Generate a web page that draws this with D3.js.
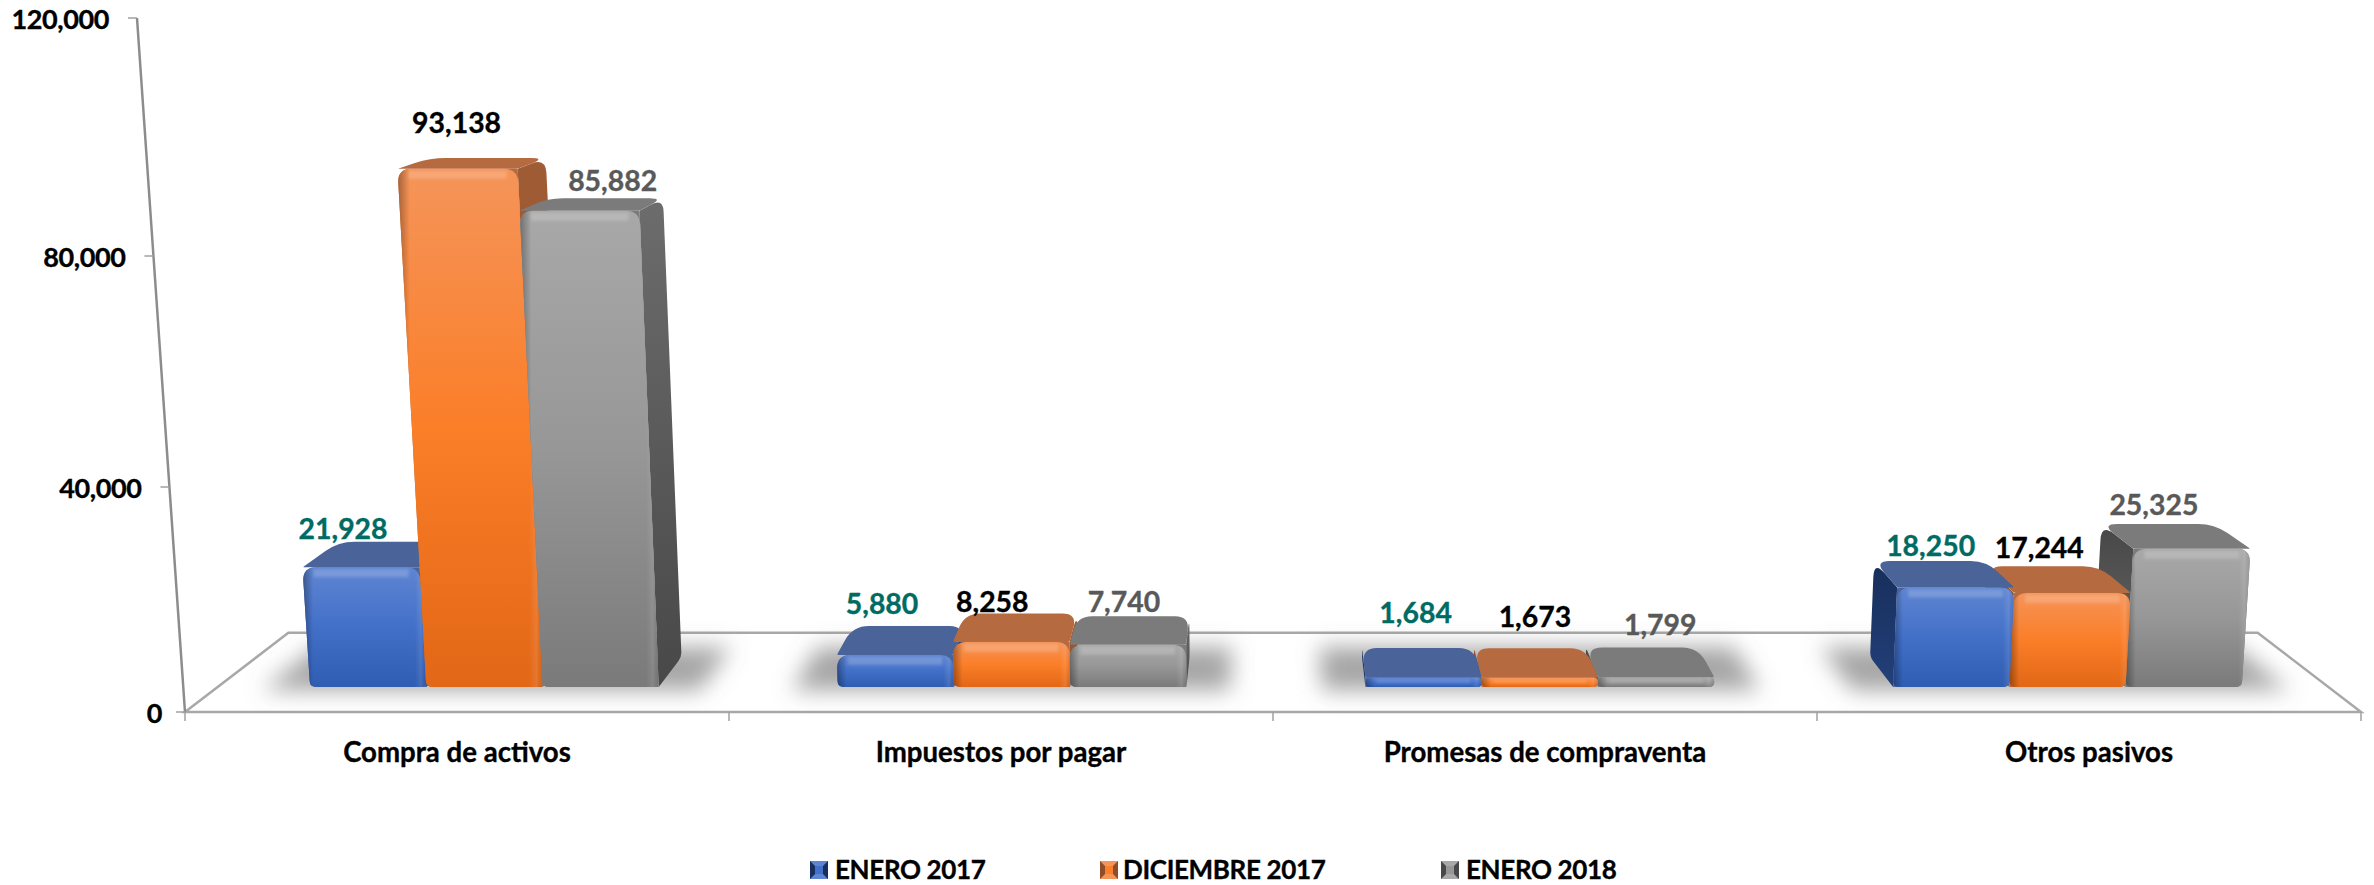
<!DOCTYPE html>
<html>
<head>
<meta charset="utf-8">
<script src="https://cdn.jsdelivr.net/npm/d3@7"></script>
<style>
  html, body { margin: 0; background: #fff; }
  text { font-family: Lato, "Open Sans", sans-serif; font-weight: 700; stroke-width: 0.35px; }
</style>
</head>
<body>
<div id="chart"></div>
<script>
// Chart data
const categories = ['Compra de activos', 'Impuestos por pagar', 'Promesas de compraventa', 'Otros pasivos'];
const seriesNames = ['ENERO 2017', 'DICIEMBRE 2017', 'ENERO 2018'];
const enero2017 = [21928, 5880, 1684, 18250];
const diciembre2017 = [93138, 8258, 1673, 17244];
const enero2018 = [85882, 7740, 1799, 25325];
const seriesValues = [enero2017, diciembre2017, enero2018];
const yTicks = [0, 40000, 80000, 120000];

// Looks per series
const palette = [
  { top: '#4a6398', sideA: '#23407a', sideB: '#172f5c', stops: ['#5f85d2', '#4270c8', '#2f5db2'], label: '#006b63' },
  { top: '#b56a40', sideA: '#a05c34', sideB: '#8c4e2a', stops: ['#f59459', '#fb7e28', '#e26716'], label: '#000000' },
  { top: '#7b7b7b', sideA: '#6c6c6c', sideB: '#484848', stops: ['#a8a8a8', '#979797', '#7a7a7a'], label: '#595959' }
];

// Hand-placed data labels, offset from the top of each bar's front face (as in the source)
const labelNudge = [
  [[-18, -38], [-13, -51], [-8, -65], [-25, -41]],
  [[-1, -46], [-19, -40], [-5, -61], [-33, -45]],
  [[33, -30], [-4, -43], [4, -52], [-38, -44]]
];

const width = 2374;
const height = 885;

// Perspective: verticals flare from below, depth lines run to a point above the chart
const vx = 1273;
const vy = -122;
const flare = 15730;
const floorDepth = 0.095;
const barFront = 0.03;
const barBack = 0.066;
const barShift = 3;

const y = d3.scaleLinear().domain(yTicks).range([712, 487, 256, 18]);
const x = d3.scaleBand().domain(categories).range([185, 2361]);
const xInner = d3.scaleBand().domain(seriesNames).range([0, x.bandwidth()]).paddingInner(0).paddingOuter(0.77);

function project(xb, h, f) {
  const y0 = y(h);
  const x0 = vx + (xb - vx) * (1 + (y(0) - y0) / flare);
  return [x0 + f * (vx - x0), y0 + f * (vy - y0)];
}

// Polygon with rounded corners, radii given per corner
function roundPoly(pts, radii) {
  const n = pts.length;
  let d = '';
  pts.forEach((p, i) => {
    const a = pts[(i + n - 1) % n];
    const b = pts[(i + 1) % n];
    const la = Math.hypot(a[0] - p[0], a[1] - p[1]);
    const lb = Math.hypot(b[0] - p[0], b[1] - p[1]);
    const r = Math.min(radii[i], la / 2, lb / 2);
    const s = [p[0] + (a[0] - p[0]) * r / la, p[1] + (a[1] - p[1]) * r / la];
    const e = [p[0] + (b[0] - p[0]) * r / lb, p[1] + (b[1] - p[1]) * r / lb];
    d += `${i ? 'L' : 'M'}${s[0]},${s[1]}Q${p[0]},${p[1]} ${e[0]},${e[1]}`;
  });
  return d + 'Z';
}

const svg = d3.select('#chart').append('svg')
  .attr('width', width)
  .attr('height', height)
  .style('display', 'block');

const defs = svg.append('defs');
defs.append('filter').attr('id', 'soft').attr('x', '-20%').attr('y', '-60%').attr('width', '140%').attr('height', '220%')
  .append('feGaussianBlur').attr('stdDeviation', 11);
defs.append('filter').attr('id', 'rim').attr('x', '-30%').attr('y', '-100%').attr('width', '160%').attr('height', '300%')
  .append('feGaussianBlur').attr('stdDeviation', 1.6);

palette.forEach((p, i) => {
  const front = defs.append('linearGradient').attr('id', `front-${i}`).attr('x1', 0).attr('x2', 0).attr('y1', 0).attr('y2', 1);
  p.stops.forEach((c, k) => front.append('stop').attr('offset', `${k * 50}%`).attr('stop-color', c));
  // right-hand faces darken downwards, left-hand faces lighten
  const sideR = defs.append('linearGradient').attr('id', `side-r-${i}`).attr('x1', 0).attr('x2', 0).attr('y1', 0).attr('y2', 1);
  sideR.append('stop').attr('offset', '0%').attr('stop-color', p.sideA);
  sideR.append('stop').attr('offset', '100%').attr('stop-color', p.sideB);
  const sideL = defs.append('linearGradient').attr('id', `side-l-${i}`).attr('x1', 0).attr('x2', 0).attr('y1', 0).attr('y2', 1);
  sideL.append('stop').attr('offset', '0%').attr('stop-color', p.sideB);
  sideL.append('stop').attr('offset', '100%').attr('stop-color', p.sideA);
});
const edge = defs.append('linearGradient').attr('id', 'edge').attr('x1', 0).attr('x2', 1).attr('y1', 0).attr('y2', 0);
[[0, '#000', 0.32], [0.08, '#000', 0], [0.91, '#fff', 0], [0.96, '#fff', 0.1], [1, '#000', 0.05]].forEach(s => {
  edge.append('stop').attr('offset', s[0]).attr('stop-color', s[1]).attr('stop-opacity', s[2]);
});

// Floor outline
svg.append('path')
  .attr('d', d3.line()([project(185, 0, 0), project(185, 0, floorDepth), project(2361, 0, floorDepth), project(2361, 0, 0)]) + 'Z')
  .attr('fill', 'none')
  .attr('stroke', '#a8a8a8')
  .attr('stroke-width', 2.5);

// Value axis
const tickLen = 9;
svg.append('path')
  .attr('d', d3.line()(yTicks.map(t => project(185, t, 0))))
  .attr('fill', 'none')
  .attr('stroke', '#8c8c8c')
  .attr('stroke-width', 2.5);
const yTick = svg.append('g').selectAll('g').data(yTicks).join('g')
  .attr('transform', d => `translate(${project(185, d, 0)})`);
yTick.append('line').attr('x1', -tickLen).attr('x2', 0).attr('stroke', '#a0a0a0').attr('stroke-width', 1.5);
yTick.append('text')
  .attr('x', d => d === 0 ? -tickLen - 14 : -tickLen - 19)
  .attr('y', 2)
  .attr('dy', '0.35em')
  .attr('text-anchor', 'end')
  .attr('font-size', 27)
  .attr('letter-spacing', -0.4)
  .attr('fill', '#000')
  .attr('stroke', '#000')
  .text(d3.format(','));

// Category axis
const xBoundaries = categories.map(c => x(c)).concat(x.range()[1]);
svg.append('g').selectAll('line').data(xBoundaries).join('line')
  .attr('x1', d => d).attr('x2', d => d)
  .attr('y1', y(0)).attr('y2', y(0) + tickLen)
  .attr('stroke', '#a0a0a0').attr('stroke-width', 1.5);
const xAxis = svg.append('g')
  .attr('transform', `translate(0,${y(0)})`)
  .call(d3.axisBottom(x).tickSize(0).tickPadding(30));
xAxis.select('.domain').remove();
xAxis.attr('font-family', null);
xAxis.selectAll('text').attr('font-size', 27.6).attr('fill', '#000').attr('stroke', '#000');

// One record per bar, far-from-centre bars first so nearer ones paint over them
const bars = categories.flatMap((c, ci) => seriesNames.map((s, si) => {
  const x0 = x(c) + xInner(s) + barShift;
  return { c, ci, s, si, value: seriesValues[si][ci], x0, x1: x0 + xInner.bandwidth() };
})).sort((a, b) => Math.abs((b.x0 + b.x1) / 2 - vx) - Math.abs((a.x0 + a.x1) / 2 - vx));

// Floor shadows
svg.append('g').selectAll('path').data(categories).join('path')
  .attr('d', c => {
    const l = x(c) + xInner(seriesNames[0]) - 42;
    const r = x(c) + xInner(seriesNames[2]) + xInner.bandwidth() + 48;
    return d3.line()([project(l, 0, 0.026), project(r, 0, 0.026), project(r, 0, 0.078), project(l, 0, 0.078)]) + 'Z';
  })
  .attr('fill', '#707070')
  .attr('fill-opacity', 0.62)
  .attr('filter', 'url(#soft)');

// Bars
const barG = svg.append('g').selectAll('g').data(bars).join('g');

barG.each(function(d) {
  const g = d3.select(this);
  const rightSide = (d.x0 + d.x1) / 2 < vx;
  const fl = project(d.x0, d.value, barFront);
  const fr = project(d.x1, d.value, barFront);
  const bl = project(d.x0, d.value, barBack);
  const br = project(d.x1, d.value, barBack);
  const flb = project(d.x0, 0, barFront);
  const frb = project(d.x1, 0, barFront);
  const outer = rightSide ? d.x1 : d.x0;

  g.append('path')
    .attr('d', roundPoly([
      project(outer, d.value, barFront),
      project(outer, d.value, barBack),
      project(outer, 0, barBack),
      project(outer, 0, barFront)
    ], [0, 16, 5, 0]))
    .attr('fill', `url(#side-${rightSide ? 'r' : 'l'}-${d.si})`);

  g.append('path')
    .attr('d', roundPoly([fl, fr, br, bl], [2, 2, 16, 16]))
    .attr('fill', palette[d.si].top);

  // backing so the rounded front corner on the side-face edge shows no gap
  g.append('path')
    .attr('d', roundPoly([fl, fr, frb, flb], rightSide ? [14, 0, 0, 6] : [0, 14, 6, 0]))
    .attr('fill', palette[d.si].top);

  const front = roundPoly([fl, fr, frb, flb], [14, 14, 6, 6]);
  g.append('path').attr('d', front).attr('fill', `url(#front-${d.si})`);
  g.append('path').attr('d', front).attr('fill', 'url(#edge)');

  // lit rim along the top of the front face
  const rimH = Math.min(8, (flb[1] - fl[1]) / 3);
  g.append('path')
    .attr('d', d3.line()([
      [fl[0] + 11, fl[1] + 2],
      [fr[0] - 11, fr[1] + 2],
      [fr[0] - 11, fr[1] + 2 + rimH],
      [fl[0] + 11, fl[1] + 2 + rimH]
    ]) + 'Z')
    .attr('fill', '#fff')
    .attr('fill-opacity', 0.18)
    .attr('filter', 'url(#rim)');
});

// Data labels
svg.append('g').selectAll('text').data(bars).join('text')
  .attr('x', d => project((d.x0 + d.x1) / 2, d.value, barFront)[0] + labelNudge[d.si][d.ci][0])
  .attr('y', d => project((d.x0 + d.x1) / 2, d.value, barFront)[1] + labelNudge[d.si][d.ci][1])
  .attr('dy', '0.35em')
  .attr('text-anchor', 'middle')
  .attr('font-size', 28.4)
  .attr('fill', d => palette[d.si].label)
  .attr('stroke', d => palette[d.si].label)
  .text(d => d3.format(',')(d.value));

// Legend
const legendX = d3.scaleOrdinal().domain(seriesNames).range([810, 1100, 1441]);
const swatchW = 18;
const swatchH = 18;
const legend = svg.append('g').selectAll('g').data(seriesNames).join('g')
  .attr('transform', d => `translate(${legendX(d)},861)`);
legend.each(function(d, i) {
  const g = d3.select(this);
  const w = swatchW;
  const h = swatchH;
  const b = 5;
  const p = palette[i];
  g.append('rect').attr('width', w).attr('height', h).attr('fill', p.stops[1]);
  g.append('path').attr('d', d3.line()([[0, 0], [w, 0], [w - b, b], [b, b]]) + 'Z').attr('fill', p.stops[0]);
  g.append('path').attr('d', d3.line()([[0, h], [w, h], [w - b, h - b], [b, h - b]]) + 'Z').attr('fill', p.stops[0]);
  g.append('path').attr('d', d3.line()([[0, 0], [b, b], [b, h - b], [0, h]]) + 'Z').attr('fill', p.sideB);
  g.append('path').attr('d', d3.line()([[w, 0], [w - b, b], [w - b, h - b], [w, h]]) + 'Z').attr('fill', p.sideB);
  g.append('text')
    .attr('x', w + (i === 1 ? 5 : 7))
    .attr('y', h / 2 - 0.5)
    .attr('dy', '0.35em')
    .attr('font-size', 26)
    .attr('letter-spacing', -0.35)
    .attr('fill', '#000')
    .attr('stroke', '#000')
    .text(d);
});
</script>
</body>
</html>
